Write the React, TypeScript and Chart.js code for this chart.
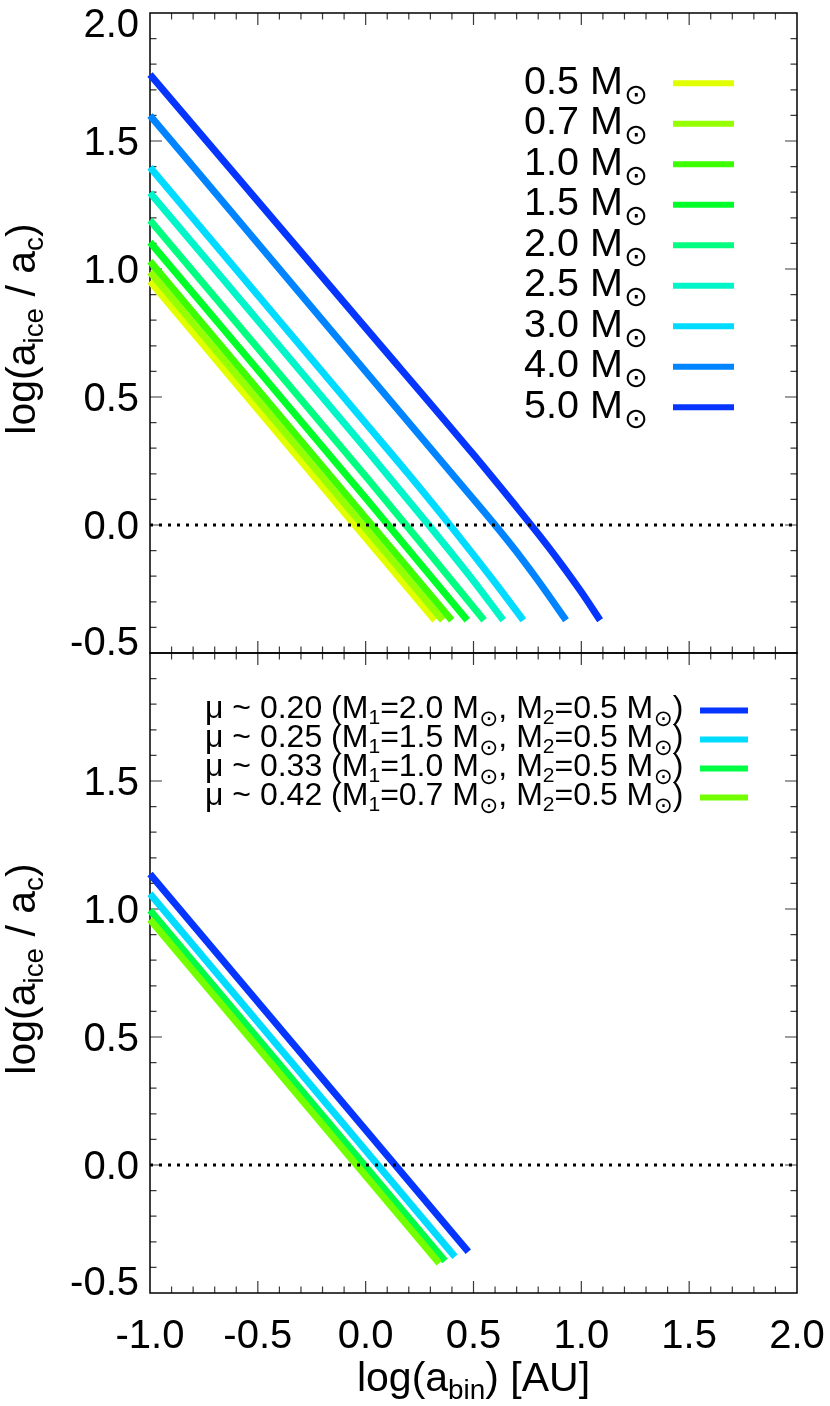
import React, { useEffect, useRef } from 'react';
import { Chart, registerables } from 'chart.js';

Chart.register(...registerables);

const FONT = '"Liberation Sans", Arial, Helvetica, sans-serif';
const SUN_FONT = '"DejaVu Sans"';
const W = 830;
const H = 1406;

// ---------- top panel: single-star masses ----------
const massLabels = ['0.5', '0.7', '1.0', '1.5', '2.0', '2.5', '3.0', '4.0', '5.0'];
const massColors = ['#e2ff00', '#96ff00', '#3cff00', '#00ff28', '#00ff80', '#00f5c8', '#00dcff', '#0084ff', '#0535ff'];

const m05X = [-1.0, 0.321];
const m05Y = [0.952, -0.372];
const m07X = [-1.0, 0.357];
const m07Y = [0.988, -0.372];
const m10X = [-1.0, 0.399];
const m10Y = [1.03, -0.372];
const m15X = [-1.0, 0.0, 0.471];
const m15Y = [1.105, 0.105, -0.372];
const m20X = [-1.0, 0.0, 0.3, 0.549];
const m20Y = [1.19, 0.19, -0.115, -0.372];
const m25X = [-1.0, 0.0, 0.3, 0.5, 0.638];
const m25Y = [1.298, 0.298, -0.008, -0.218, -0.372];
const m30X = [-1.0, 0.0, 0.2, 0.4, 0.6, 0.731];
const m30Y = [1.397, 0.397, 0.197, -0.01, -0.225, -0.372];
const m40X = [-1.0, 0.0, 0.4, 0.6, 0.7, 0.8, 0.929];
const m40Y = [1.6, 0.6, 0.2, 0.0, -0.105, -0.218, -0.372];
const m50X = [-1.0, 0.0, 0.5, 0.7, 0.8, 0.9, 1.0, 1.087];
const m50Y = [1.76, 0.77, 0.275, 0.07, -0.035, -0.145, -0.262, -0.372];

const topXs = [m05X, m07X, m10X, m15X, m20X, m25X, m30X, m40X, m50X];
const topYs = [m05Y, m07Y, m10Y, m15Y, m20Y, m25Y, m30Y, m40Y, m50Y];

// ---------- bottom panel: binaries ----------
const muLabels = ['0.20', '0.25', '0.33', '0.42'];
const m1Labels = ['2.0', '1.5', '1.0', '0.7'];
const m2Label = '0.5';
const muColors = ['#0535ff', '#00dcff', '#00ff44', '#74ff00'];

const mu020X = [-1.0, 0.476];
const mu020Y = [1.137, -0.339];
const mu025X = [-1.0, 0.414];
const mu025Y = [1.06, -0.358];
const mu033X = [-1.0, 0.368];
const mu033Y = [0.995, -0.375];
const mu042X = [-1.0, 0.341];
const mu042Y = [0.959, -0.384];

const botXs = [mu020X, mu025X, mu033X, mu042X];
const botYs = [mu020Y, mu025Y, mu033Y, mu042Y];

// ---------- reference lines & ticks ----------
const zeroX = [-1.0, 2.0];
const zeroY = [0.0, 0.0];

const xTickValues = [-1.0, -0.5, 0.0, 0.5, 1.0, 1.5, 2.0];
const yTopTickValues = [2.0, 1.5, 1.0, 0.5, 0.0, -0.5];
const yBotTickValues = [1.5, 1.0, 0.5, 0.0, -0.5];

const pts = (xs: number[], ys: number[]) => xs.map((x, i) => ({ x, y: ys[i] }));

type Seg = { t?: string; k: 'n' | 'sub' | 'sun' };
type SunOpt = { d: number; gap: number; dy: number; after: number; sub: number; subDy: number };

function drawRich(
  ctx: CanvasRenderingContext2D,
  segs: Seg[],
  x: number,
  y: number,
  size: number,
  sun: SunOpt,
  measureOnly = false
): number {
  let cx = x;
  const subSize = size * sun.sub;
  for (const s of segs) {
    if (s.k === 'n') {
      ctx.font = `${size}px ${FONT}`;
      if (!measureOnly) ctx.fillText(s.t || '', cx, y);
      cx += ctx.measureText(s.t || '').width;
    } else if (s.k === 'sub') {
      ctx.font = `${subSize}px ${FONT}`;
      if (!measureOnly) ctx.fillText(s.t || '', cx, y + size * sun.subDy);
      cx += ctx.measureText(s.t || '').width;
    } else {
      ctx.font = `100px ${SUN_FONT}`;
      const m = ctx.measureText('\u2299');
      const inkW = m.actualBoundingBoxLeft + m.actualBoundingBoxRight;
      const fs = (sun.d / inkW) * 100;
      const k = fs / 100;
      ctx.font = `${fs}px ${SUN_FONT}`;
      const inkLeft = cx + sun.gap;
      const drawX = inkLeft + m.actualBoundingBoxLeft * k;
      const inkMid = ((m.actualBoundingBoxDescent - m.actualBoundingBoxAscent) / 2) * k;
      const base = y + sun.dy - inkMid;
      if (!measureOnly) ctx.fillText('\u2299', drawX, base);
      cx = inkLeft + sun.d + sun.after;
    }
  }
  return cx - x;
}

const panelPlugin = {
  id: 'panelDecor',
  beforeDatasetsDraw(chart: any) {
    const ctx: CanvasRenderingContext2D = chart.ctx;
    const { left, right } = chart.chartArea;
    const xs = chart.scales.x;
    for (const id of ['yTop', 'yBot']) {
      const ys = chart.scales[id];
      const top = ys.top;
      const bottom = ys.bottom;
      ctx.save();
      ctx.strokeStyle = '#3a3a3a';
      ctx.lineWidth = 1.2;
      ctx.beginPath();
      for (let i = -9; i <= 19; i++) {
        const px = xs.getPixelForValue(i / 10);
        const len = i % 5 === 0 ? 12 : 6.5;
        ctx.moveTo(px, bottom);
        ctx.lineTo(px, bottom - len);
        ctx.moveTo(px, top);
        ctx.lineTo(px, top + len);
      }
      for (let i = -4; i <= 19; i++) {
        const py = ys.getPixelForValue(i / 10);
        const len = i % 5 === 0 ? 12 : 6.5;
        ctx.moveTo(left, py);
        ctx.lineTo(left + len, py);
        ctx.moveTo(right, py);
        ctx.lineTo(right - len, py);
      }
      ctx.stroke();
      ctx.strokeStyle = '#000';
      ctx.lineWidth = 1.5;
      ctx.strokeRect(left, top, right - left, bottom - top);
      ctx.restore();
    }
  },
  afterDraw(chart: any) {
    const ctx: CanvasRenderingContext2D = chart.ctx;
    const { left, right } = chart.chartArea;
    const yTop = chart.scales.yTop;
    const yBot = chart.scales.yBot;
    ctx.save();
    ctx.fillStyle = '#000';
    ctx.textBaseline = 'alphabetic';

    // y tick labels
    const tickSize = 40;
    ctx.font = `${tickSize}px ${FONT}`;
    ctx.textAlign = 'right';
    const drawYLabels = (scale: any, vals: number[]) => {
      for (const v of vals) {
        let py = scale.getPixelForValue(v);
        if (v === scale.max) py += 10;
        if (v === scale.min) py -= 12;
        ctx.fillText(v.toFixed(1), left - 11, py + tickSize * 0.358);
      }
    };
    drawYLabels(yTop, yTopTickValues);
    drawYLabels(yBot, yBotTickValues);

    // axis titles
    ctx.textAlign = 'left';
    const titleSize = 41;
    const titleOpt: SunOpt = { d: 0, gap: 0, dy: 0, after: 0, sub: 0.68, subDy: 0.2 };
    const yTitle: Seg[] = [
      { t: 'log(a', k: 'n' },
      { t: 'ice', k: 'sub' },
      { t: ' / a', k: 'n' },
      { t: 'c', k: 'sub' },
      { t: ')', k: 'n' },
    ];
    const yw = drawRich(ctx, yTitle, 0, 0, titleSize, titleOpt, true);
    for (const s of [yTop, yBot]) {
      const cy = (s.top + s.bottom) / 2 - 4;
      ctx.save();
      ctx.translate(35, cy);
      ctx.rotate(-Math.PI / 2);
      drawRich(ctx, yTitle, -yw / 2, 0, titleSize, titleOpt);
      ctx.restore();
    }
    const xTitle: Seg[] = [
      { t: 'log(a', k: 'n' },
      { t: 'bin', k: 'sub' },
      { t: ') [AU]', k: 'n' },
    ];
    const xw = drawRich(ctx, xTitle, 0, 0, titleSize, titleOpt, true);
    drawRich(ctx, xTitle, (left + right) / 2 - xw / 2, 1391, titleSize, titleOpt);

    // top legend
    const topSun: SunOpt = { d: 19, gap: 3.7, dy: 1.4, after: 2, sub: 0.65, subDy: 0.2 };
    massLabels.forEach((lab, i) => {
      const base = 93.5 + 40.5 * i;
      ctx.fillStyle = '#000';
      drawRich(ctx, [{ t: `${lab} M`, k: 'n' }, { k: 'sun' }], 524, base, 39.5, topSun);
      ctx.strokeStyle = massColors[i];
      ctx.lineWidth = 6;
      ctx.beginPath();
      ctx.moveTo(673, base - 10.2);
      ctx.lineTo(734, base - 10.2);
      ctx.stroke();
    });

    // bottom legend
    const botSun: SunOpt = { d: 15, gap: 2.5, dy: 1.5, after: 2, sub: 0.66, subDy: 0.2 };
    muLabels.forEach((mu, i) => {
      const base = 717.5 + 29 * i;
      ctx.fillStyle = '#000';
      const segs: Seg[] = [
        { t: `\u03bc ~ ${mu} (M`, k: 'n' },
        { t: '1', k: 'sub' },
        { t: `=${m1Labels[i]} M`, k: 'n' },
        { k: 'sun' },
        { t: ', M', k: 'n' },
        { t: '2', k: 'sub' },
        { t: `=${m2Label} M`, k: 'n' },
        { k: 'sun' },
        { t: ')', k: 'n' },
      ];
      drawRich(ctx, segs, 205, base, 32, botSun);
      ctx.strokeStyle = muColors[i];
      ctx.lineWidth = 6;
      ctx.beginPath();
      ctx.moveTo(700, base - 7);
      ctx.lineTo(748, base - 7);
      ctx.stroke();
    });
    ctx.restore();
  },
};

export default function App() {
  const ref = useRef<HTMLCanvasElement | null>(null);

  useEffect(() => {
    document.body.style.margin = '0';
    document.body.style.overflow = 'hidden';
    const canvas = ref.current;
    if (!canvas) return;

    const datasets: any[] = [];
    topXs.forEach((xs, i) => {
      datasets.push({
        label: `${massLabels[i]} Msun`,
        data: pts(xs, topYs[i]),
        yAxisID: 'yTop',
        borderColor: massColors[i],
        borderWidth: 7,
        borderCapStyle: 'butt',
        cubicInterpolationMode: 'monotone',
        pointRadius: 0,
        fill: false,
        clip: 8,
        order: 100 - i,
      });
    });
    botXs.forEach((xs, i) => {
      datasets.push({
        label: `mu ${muLabels[i]}`,
        data: pts(xs, botYs[i]),
        yAxisID: 'yBot',
        borderColor: muColors[i],
        borderWidth: 7,
        borderCapStyle: 'butt',
        pointRadius: 0,
        fill: false,
        tension: 0,
        clip: 8,
        order: 50 - i,
      });
    });
    for (const id of ['yTop', 'yBot']) {
      datasets.push({
        label: 'zero',
        data: pts(zeroX, zeroY),
        yAxisID: id,
        borderColor: '#000',
        borderWidth: 3,
        borderDash: [3, 6],
        borderCapStyle: 'butt',
        pointRadius: 0,
        fill: false,
        order: 0,
      });
    }

    const chart = new Chart(canvas, {
      type: 'line',
      data: { datasets },
      options: {
        animation: false,
        responsive: false,
        devicePixelRatio: 1,
        layout: { padding: { top: 13, right: 33, left: 0, bottom: 0 } },
        plugins: {
          legend: { display: false },
          tooltip: { enabled: false },
          title: { display: false },
        },
        scales: {
          x: {
            type: 'linear',
            min: -1,
            max: 2,
            position: 'bottom',
            grid: { display: false },
            border: { display: false },
            afterBuildTicks: (s: any) => {
              s.ticks = xTickValues.map((v) => ({ value: v }));
            },
            ticks: {
              autoSkip: false,
              maxRotation: 0,
              minRotation: 0,
              color: '#000',
              padding: 12,
              font: { family: FONT, size: 40 },
              callback: (v: any) => Number(v).toFixed(1),
            },
            afterFit: (s: any) => {
              s.height = 113;
              s.paddingLeft = 0;
              s.paddingRight = 0;
            },
          },
          // stacked scales: the later-declared one is placed on top
          yBot: {
            type: 'linear',
            min: -0.5,
            max: 2.0,
            position: 'left',
            stack: 'panels',
            stackWeight: 1,
            grid: { display: false },
            border: { display: false },
            ticks: { display: false },
            afterFit: (s: any) => {
              s.width = 150;
            },
          },
          yTop: {
            type: 'linear',
            min: -0.5,
            max: 2.0,
            position: 'left',
            stack: 'panels',
            stackWeight: 1,
            grid: { display: false },
            border: { display: false },
            ticks: { display: false },
            afterFit: (s: any) => {
              s.width = 150;
            },
          },
        } as any,
      },
      plugins: [panelPlugin],
    });
    return () => chart.destroy();
  }, []);

  return (
    <div style={{ width: W, height: H, background: '#fff' }}>
      <canvas ref={ref} width={W} height={H} style={{ display: 'block', width: W, height: H }} />
    </div>
  );
}
